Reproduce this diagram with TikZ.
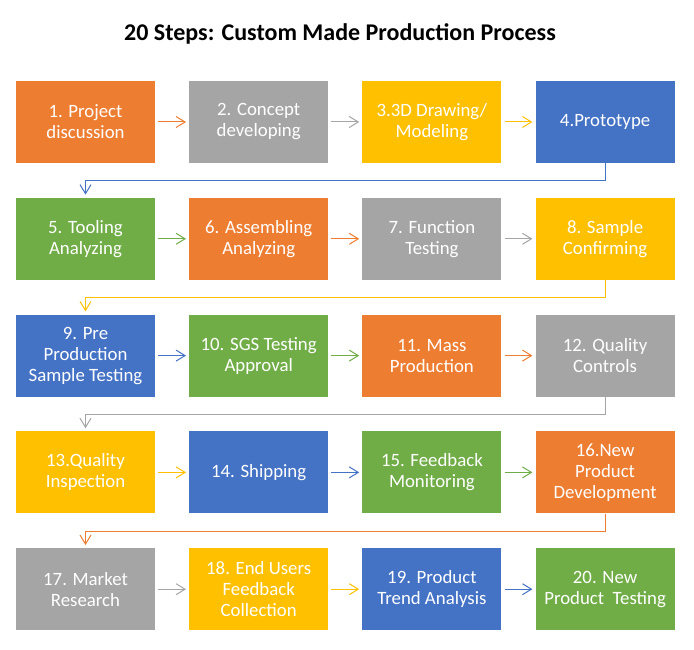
\documentclass[tikz,border=0pt]{standalone}
\usepackage{fontspec}
\setmainfont{Carlito}
\usetikzlibrary{arrows.meta,positioning,calc}

\definecolor{stepOrange}{HTML}{ED7D31}
\definecolor{stepGray}{HTML}{A5A5A5}
\definecolor{stepYellow}{HTML}{FFC000}
\definecolor{stepBlue}{HTML}{4472C4}
\definecolor{stepGreen}{HTML}{70AD47}

\tikzset{
    stepbox/.style={rectangle,fill=#1,minimum width=139pt,minimum height=82pt,
        text=white,align=center,inner sep=2pt,font=\fontsize{18.8}{21}\selectfont},
    flow/.style={-{Straight Barb[length=9pt,width=11pt]},line width=1pt,draw=#1,
        shorten >=3pt,shorten <=3pt},
}

\begin{document}
\begin{tikzpicture}[x=1pt,y=1pt]
    \fill[white] (0,0) rectangle (694,-650);
    \useasboundingbox (0,0) rectangle (694,-650);

    % Title
    \node[font=\bfseries\fontsize{24}{28}\selectfont] (title) at (340,-34) {20 Steps: Custom Made Production Process};

    % Steps, four per row
    \foreach \i/\c/\txt in {1/stepOrange/{1. Project\\discussion},
                            2/stepGray/{2. Concept\\developing},
                            3/stepYellow/{3.3D Drawing/\\Modeling},
                            4/stepBlue/{4.Prototype},
                            5/stepGreen/{5. Tooling\\Analyzing},
                            6/stepOrange/{6. Assembling\\Analyzing},
                            7/stepGray/{7. Function\\Testing},
                            8/stepYellow/{8. Sample\\Confirming},
                            9/stepBlue/{9. Pre\\Production\\Sample Testing},
                            10/stepGreen/{10. SGS Testing\\Approval},
                            11/stepOrange/{11. Mass\\Production},
                            12/stepGray/{12. Quality\\Controls},
                            13/stepYellow/{13.Quality\\Inspection},
                            14/stepBlue/{14. Shipping},
                            15/stepGreen/{15. Feedback\\Monitoring},
                            16/stepOrange/{16.New\\Product\\Development},
                            17/stepGray/{17. Market\\Research},
                            18/stepYellow/{18. End Users\\Feedback\\Collection},
                            19/stepBlue/{19. Product\\Trend Analysis},
                            20/stepGreen/{20. New\\Product\ \ Testing}} {
        \pgfmathtruncatemacro{\row}{(\i-1)/4}
        \pgfmathtruncatemacro{\col}{\i-1-4*\row}
        \node[stepbox=\c] (s\i) at (85.5+173.2*\col,-122-116.8*\row) {\txt};
    }

    % Arrows within a row
    \foreach \i/\c in {1/stepOrange,2/stepGray,3/stepYellow,
                       5/stepGreen,6/stepOrange,7/stepGray,
                       9/stepBlue,10/stepGreen,11/stepOrange,
                       13/stepYellow,14/stepBlue,15/stepGreen,
                       17/stepGray,18/stepYellow,19/stepBlue} {
        \pgfmathtruncatemacro{\j}{\i+1}
        \draw[flow=\c] (s\i) -- (s\j);
    }

    % Links down to the next row
    \foreach \i/\c in {4/stepBlue,8/stepYellow,12/stepGray,16/stepOrange} {
        \pgfmathtruncatemacro{\j}{\i+1}
        \draw[flow=\c,shorten <=0pt] (s\i.south) -- ++(0,-17.5) -| (s\j.north);
    }
\end{tikzpicture}
\end{document}
